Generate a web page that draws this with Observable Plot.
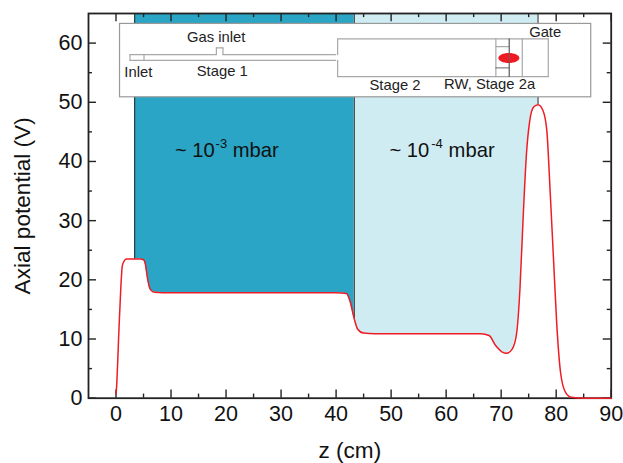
<!DOCTYPE html>
<html><head><meta charset="utf-8">
<script src="https://cdn.jsdelivr.net/npm/d3@7"></script>
<script src="https://cdn.jsdelivr.net/npm/@observablehq/plot@0.6"></script>
<style>html,body{margin:0;padding:0;background:#fff}svg{display:block}</style>
</head><body><div id="chart"></div>
<script>
const zValues = [0,0.1,0.3,0.55,0.85,1.15,1.5,1.9,2.6,3.4,4.5,5,5.3,5.7,6,6.3,7,10,20,30,40,41.9,42.5,43.3,43.9,45,47,55,66.3,67.8,69,70.2,71,72,72.8,73.4,74,74.6,75.2,75.9,76.7,77.6,78.3,78.9,79.5,80.1,80.8,81.7,82.8,85,90];
const potential = [0.8,1.8,6,12,18.2,22.4,23.2,23.5,23.5,23.5,23.5,23.4,22.8,20.4,19,18.3,17.9,17.8,17.8,17.8,17.8,17.7,16.5,13.4,11.7,11,10.9,10.9,10.87,10.6,8.9,7.8,7.6,8.3,10.9,18.2,30.6,41.3,46.9,49.2,49.6,48.6,45.2,35,23.8,12.6,4.3,1.0,0.15,0,0];
const curve = zValues.map((z,i)=>({z,v:potential[i]}));
const regionDark = [3.4,43.3], regionLight = [43.3,76.7];
const regionDarkColor = "#2aa5c5", regionLightColor = "#d0ecf3";
const xMajor = d3.range(0,91,10), xMinor = d3.range(5,90,10);
const yMajor = d3.range(0,61,10), yMinor = d3.range(5,65,10);
const vAt = z => curve.find(d=>d.z===z).v;

// inset schematic, in axis units
const insetBox = [0.73,86.37,50.84,63.24];
const tubeSegments = [
 {x:[2.54,18.24],y:[58.06,58.06]},{x:[19.44,39.92],y:[58.06,58.06]},{x:[2.54,39.92],y:[57.09,57.09]},
 {x:[2.54,2.54],y:[57.09,58.06]},{x:[5.09,5.09],y:[57.09,58.06]},
 {x:[18.24,18.24],y:[58.06,59.19]},{x:[18.24,19.44],y:[59.19,59.19]},{x:[19.44,19.44],y:[59.19,58.06]},
 {x:[40.28,40.28],y:[60.71,58.06]},{x:[40.28,40.28],y:[57.09,54.34]},
 {x:[40.28,78.56],y:[60.71,60.71]},{x:[40.28,78.56],y:[54.34,54.34]},{x:[78.56,78.56],y:[54.34,60.71]},
 {x:[69.04,69.04],y:[54.34,60.71]},{x:[73.84,73.84],y:[54.34,60.71]},{x:[69.04,71.47],y:[59.41,59.41]}
];
const darkSegments = [{x:[71.47,71.47],y:[54.34,60.71]},{x:[69.04,71.47],y:[55.81,55.81]}];
const insetLabels = [
 {t:"Gas inlet",x:18.2,y:60.95},{t:"Inlet",x:4.05,y:55.1},{t:"Stage 1",x:19.3,y:55.2},
 {t:"Stage 2",x:50.7,y:52.9},{t:"RW, Stage 2a",x:67.9,y:53.1},{t:"Gate",x:78.0,y:61.8}
];
const pressureBase = [{t:"~ 10",x:10.7,y:41.84},{t:"mbar",x:21.2,y:41.84},{t:"~ 10",x:49.7,y:41.84},{t:"mbar",x:60.45,y:41.84}];
const pressureExp = [{t:"-3",x:18.1,y:43.0},{t:"-4",x:57.3,y:43.0}];
const ionCloud = [{x:71.4,y:57.5}];

const ellipseSymbol = {draw(c,size){
  const r=Math.sqrt(size/Math.PI), a=r*2.1, b=r, k=0.5523;
  c.moveTo(-a,0);
  c.bezierCurveTo(-a,-k*b,-k*a,-b,0,-b);
  c.bezierCurveTo(k*a,-b,a,-k*b,a,0);
  c.bezierCurveTo(a,k*b,k*a,b,0,b);
  c.bezierCurveTo(-k*a,b,-a,k*b,-a,0);
  c.closePath();
}};
const inRange = r => curve.filter(d=>d.z>=r[0]&&d.z<=r[1]);
const tickInk = "#222";
const xt=(vals,len,atTop)=>Plot.ruleX(vals,{x:d=>d,y1:atTop?65:0,y2:atTop?65-len:len,stroke:tickInk,strokeWidth:1.4});
const yt=(vals,len,atRight)=>Plot.ruleY(vals,{y:d=>d,x1:atRight?90:-5,x2:atRight?90-len:-5+len,stroke:tickInk,strokeWidth:1.4});
const seg=(arr,stroke,w)=>arr.map(s=>Plot.line(s.x.map((x,i)=>({x,y:s.y[i]})),{x:"x",y:"y",stroke,strokeWidth:w}));

const plot = Plot.plot({
  width:623,height:463,marginLeft:88,marginRight:12.3,marginTop:13,marginBottom:65.3,
  style:{fontFamily:"'Liberation Sans',Arial,sans-serif",background:"#fff",color:"#111"},
  x:{domain:[-5,90]},y:{domain:[0,65]},
  marks:[
    Plot.areaY(inRange(regionDark),{x:"z",y1:"v",y2:()=>65,fill:regionDarkColor}),
    Plot.areaY(inRange(regionLight),{x:"z",y1:"v",y2:()=>65,fill:regionLightColor}),
    Plot.ruleX([3.4,43.3,76.7],{x:d=>d,y1:vAt,y2:()=>65,stroke:"#222",strokeWidth:1}),
    xt(xMajor,1.4,false),xt(xMinor,0.7,false),xt(xMajor,1.4,true),xt(xMinor,0.7,true),
    yt(yMajor,1.45,false),yt(yMinor,0.72,false),yt(yMajor,1.45,true),yt(yMinor,0.72,true),
    Plot.frame({stroke:"#222",strokeWidth:1.8}),
    Plot.rect([insetBox],{x1:d=>d[0],x2:d=>d[1],y1:d=>d[2],y2:d=>d[3],fill:"#fff",stroke:"#999",strokeWidth:1.2}),
    ...seg(tubeSegments,"#a8a8a8",1.2),
    ...seg(darkSegments,"#666",1),
    Plot.dot(ionCloud,{x:"x",y:"y",r:5,symbol:ellipseSymbol,fill:"#ed1c24"}),
    Plot.line(darkSegments[0].x.map((x,i)=>({x,y:darkSegments[0].y[i]})),{x:"x",y:"y",stroke:"#666",strokeWidth:0.8}),
    Plot.text(insetLabels,{x:"x",y:"y",text:"t",fontSize:14.8,fill:"#222"}),
    Plot.text(pressureBase,{x:"x",y:"y",text:"t",fontSize:20.2,textAnchor:"start",fill:"#111"}),
    Plot.text(pressureExp,{x:"x",y:"y",text:"t",fontSize:13,textAnchor:"start",fill:"#111"}),
    Plot.line(curve,{x:"z",y:"v",stroke:"#ee1c25",strokeWidth:1.5,curve:"monotone-x"}),
    Plot.axisX(xMajor,{tickSize:0,tickPadding:8,fontSize:21.5,label:null,tickFormat:d=>d}),
    Plot.axisY(yMajor,{tickSize:0,tickPadding:6,fontSize:21.5,label:null,tickFormat:d=>d}),
    Plot.axisX([],{label:"z (cm)",labelAnchor:"center",labelArrow:"none",labelOffset:60,fontSize:22.6,tickSize:0}),
    Plot.axisY([],{label:"Axial potential (V)",labelAnchor:"center",labelArrow:"none",labelOffset:75,fontSize:22.6,tickSize:0})
  ]
});
document.getElementById("chart").append(plot);
</script></body></html>
